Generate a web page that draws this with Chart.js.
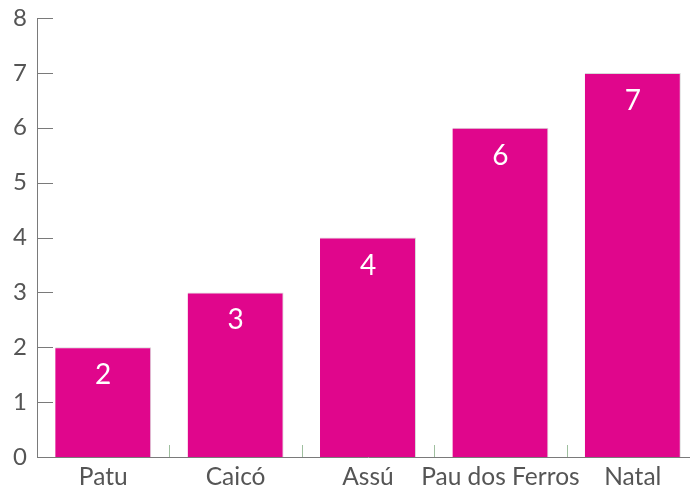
<!DOCTYPE html>
<html>
<head>
<meta charset="utf-8">
<script src="https://cdn.jsdelivr.net/npm/chart.js@4"></script>
<style>
html,body{margin:0;padding:0;overflow:hidden;background:#fff;width:690px;height:490px;}
#wrap{width:702px;height:490px;}
</style>
</head>
<body>
<div id="wrap"><canvas id="c" width="702" height="490"></canvas></div>
<script>
const categories = ["Patu", "Caicó", "Assú", "Pau dos Ferros", "Natal"];
const values = [2, 3, 4, 6, 7];
const yTicks = [0, 1, 2, 3, 4, 5, 6, 7, 8];

const FONT = "Lato, 'Noto Sans', sans-serif";

const decor = {
  id: 'decor',
  beforeDatasetsDraw(chart) {
    const ctx = chart.ctx;
    const y = chart.scales.y, x = chart.scales.x;
    const left = chart.chartArea.left, bottom = chart.chartArea.bottom;
    ctx.save();
    ctx.strokeStyle = '#7a7a7a';
    ctx.lineWidth = 1;
    yTicks.forEach(v => {
      const py = Math.round(y.getPixelForValue(v)) + 0.5;
      ctx.beginPath();
      ctx.moveTo(left, py);
      ctx.lineTo(left + 16, py);
      ctx.stroke();
    });
    ctx.strokeStyle = '#9fbf9f';
    for (let i = 1; i < categories.length; i++) {
      const px = Math.round((x.getPixelForValue(i - 1) + x.getPixelForValue(i)) / 2) + 0.5;
      ctx.beginPath();
      ctx.moveTo(px, bottom);
      ctx.lineTo(px, bottom - 12);
      ctx.stroke();
    }
    ctx.restore();
  },
  afterDatasetsDraw(chart) {
    const ctx = chart.ctx;
    const meta = chart.getDatasetMeta(0);
    ctx.save();
    ctx.fillStyle = '#ffffff';
    ctx.font = "28px " + FONT;
    ctx.textAlign = 'center';
    ctx.textBaseline = 'middle';
    meta.data.forEach((bar, i) => {
      ctx.fillText(String(values[i]), bar.x, bar.y + 28);
    });
    ctx.restore();
  }
};

new Chart(document.getElementById('c'), {
  type: 'bar',
  data: {
    labels: categories,
    datasets: [{
      data: values,
      backgroundColor: '#e0068c',
      borderColor: '#d9d9d9',
      borderWidth: {top: 1, right: 1, left: 0, bottom: 0},
      barPercentage: 0.725,
      categoryPercentage: 1.0
    }]
  },
  options: {
    responsive: false,
    animation: false,
    devicePixelRatio: 1,
    layout: { padding: { top: 18, right: 3, left: 0, bottom: 0 } },
    plugins: { legend: { display: false }, tooltip: { enabled: false } },
    scales: {
      x: {
        grid: { display: false, drawTicks: false },
        border: { display: true, color: '#7a7a7a', width: 1 },
        ticks: { color: '#555555', font: { family: FONT, size: 24.5 }, padding: 5,
                 autoSkip: false, maxRotation: 0, minRotation: 0 },
        afterFit(s) { s.height = 33; s.paddingLeft = 0; s.paddingRight = 0; }
      },
      y: {
        min: 0, max: 8,
        grid: { display: false, drawTicks: false },
        border: { display: true, color: '#7a7a7a', width: 1 },
        ticks: { stepSize: 1, color: '#555555', font: { family: FONT, size: 24 }, padding: 10 },
        afterFit(s) { s.width = 37; s.paddingTop = 0; s.paddingBottom = 0; }
      }
    }
  },
  plugins: [decor]
});
</script>
</body>
</html>
